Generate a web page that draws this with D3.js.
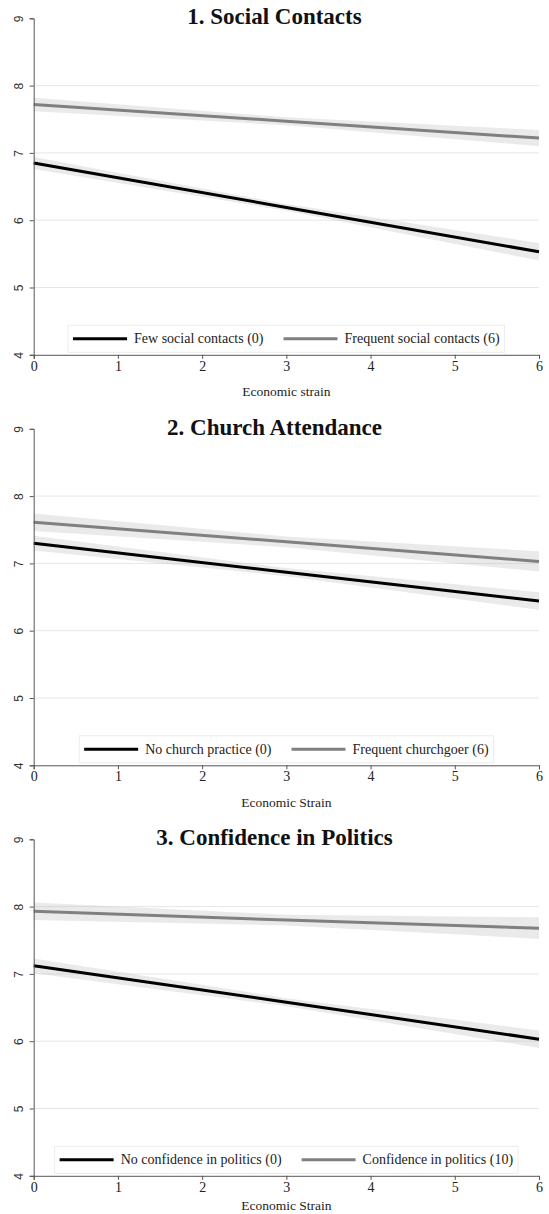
<!DOCTYPE html>
<html>
<head>
<meta charset="utf-8">
<script src="https://cdn.jsdelivr.net/npm/d3@7"></script>
<style>
  body { margin: 0; background: #fff; }
  svg { display: block; }
</style>
</head>
<body>
<div id="chart"></div>
<script>
// x positions where predictions were read (economic strain)
const strainPts = [0, 3, 6];
const strainTicks = [0, 1, 2, 3, 4, 5, 6];
const yTicks = [4, 5, 6, 7, 8, 9];
const gridTicks = [5, 6, 7, 8];

// 1. Social contacts
const socialFewFit = [6.85, 6.19, 5.53];
const socialFewHalf = [0.09, 0.05, 0.13];
const socialFreqFit = [7.72, 7.47, 7.22];
const socialFreqHalf = [0.10, 0.06, 0.12];

// 2. Church attendance
const churchNoFit = [7.30, 6.87, 6.44];
const churchNoHalf = [0.11, 0.06, 0.13];
const churchFreqFit = [7.61, 7.32, 7.03];
const churchFreqHalf = [0.13, 0.08, 0.15];

// 3. Confidence in politics
const politicsNoFit = [7.12, 6.58, 6.03];
const politicsNoHalf = [0.11, 0.06, 0.13];
const politicsConfFit = [7.93, 7.80, 7.68];
const politicsConfHalf = [0.13, 0.08, 0.16];

const panels = [
  { title: "1. Social Contacts", xLabel: "Economic strain", labelOffset: 37,
    series: [
      { label: "Few social contacts (0)", fit: socialFewFit, half: socialFewHalf, color: "#000" },
      { label: "Frequent social contacts (6)", fit: socialFreqFit, half: socialFreqHalf, color: "#808080" }
    ] },
  { title: "2. Church Attendance", xLabel: "Economic Strain", labelOffset: 37,
    series: [
      { label: "No church practice (0)", fit: churchNoFit, half: churchNoHalf, color: "#000" },
      { label: "Frequent churchgoer (6)", fit: churchFreqFit, half: churchFreqHalf, color: "#808080" }
    ] },
  { title: "3. Confidence in Politics", xLabel: "Economic Strain", labelOffset: 30,
    series: [
      { label: "No confidence in politics (0)", fit: politicsNoFit, half: politicsNoHalf, color: "#000" },
      { label: "Confidence in politics (10)", fit: politicsConfFit, half: politicsConfHalf, color: "#808080" }
    ] }
];

const width = 549, height = 1214;
const serif = "'Liberation Serif', 'Times New Roman', serif";
const sans = "'Liberation Sans', Arial, sans-serif";
const panelStep = 410.5;
const margin = { left: 33.7, right: 10, top: 18.3 };
const innerWidth = width - margin.left - margin.right;
const innerHeight = 336.5;

const svg = d3.select("#chart").append("svg")
  .attr("width", width).attr("height", height);

const x = d3.scaleLinear().domain([0, 6]).range([0, innerWidth]);
const y = d3.scaleLinear().domain([4, 9]).range([innerHeight, 0]);

panels.forEach((p, i) => {
  const top = margin.top + i * panelStep;
  const g = svg.append("g").attr("transform", `translate(${margin.left},${top})`);

  // title
  svg.append("text")
    .attr("x", width / 2).attr("y", top + 6)
    .attr("text-anchor", "middle")
    .attr("font-family", serif).attr("font-weight", "bold").attr("font-size", 23)
    .attr("fill", "#111")
    .text(p.title);

  // gridlines
  g.selectAll(".grid").data(gridTicks).join("line")
    .attr("x1", 0).attr("x2", innerWidth)
    .attr("y1", d => y(d)).attr("y2", d => y(d))
    .attr("stroke", "#e6e6e6").attr("stroke-width", 1);

  // confidence bands
  const area = d3.area()
    .x((d, j) => x(strainPts[j]))
    .y0(d => y(d[0]))
    .y1(d => y(d[1]));
  p.series.forEach(s => {
    const band = s.fit.map((f, j) => [f - s.half[j], f + s.half[j]]);
    g.append("path").datum(band)
      .attr("d", area)
      .attr("fill", "#b8b8b8").attr("fill-opacity", 0.3);
  });

  // fitted lines
  const line = d3.line().x((d, j) => x(strainPts[j])).y(d => y(d));
  p.series.forEach(s => {
    g.append("path").datum(s.fit)
      .attr("d", line)
      .attr("fill", "none").attr("stroke", s.color).attr("stroke-width", 3);
  });

  // y axis, labels turned vertical
  const yAxis = g.append("g").call(d3.axisLeft(y).tickValues(yTicks).tickSize(4).tickFormat(d3.format("d")));
  yAxis.select(".domain").attr("stroke", "#555");
  yAxis.selectAll(".tick line").attr("stroke", "#555");
  yAxis.selectAll(".tick text")
    .attr("font-family", sans).attr("font-size", 12).attr("fill", "#333")
    .attr("x", null).attr("dy", null)
    .attr("text-anchor", "middle")
    .attr("transform", "translate(-15,0) rotate(-90)")
    .attr("dominant-baseline", "central");

  // x axis
  const xAxis = g.append("g").attr("transform", `translate(0,${innerHeight})`)
    .call(d3.axisBottom(x).tickValues(strainTicks).tickSize(4).tickFormat(d3.format("d")));
  xAxis.select(".domain").attr("stroke", "#555");
  xAxis.selectAll(".tick line").attr("stroke", "#555");
  xAxis.selectAll(".tick text")
    .attr("font-family", serif).attr("font-size", 14).attr("fill", "#222")
    .attr("y", 6);

  g.append("text")
    .attr("x", innerWidth / 2).attr("y", innerHeight + p.labelOffset)
    .attr("dominant-baseline", "central")
    .attr("text-anchor", "middle")
    .attr("font-family", serif).attr("font-size", 13.5).attr("fill", "#222")
    .text(p.xLabel);

  // legend
  const sampleW = 54, gapText = 7, gapItem = 20, pad = 5, boxH = 27;
  const leg = g.append("g");
  const box = leg.append("rect")
    .attr("fill", "#fff").attr("stroke", "#ececec").attr("stroke-width", 1);
  let cx = pad;
  p.series.forEach((s, j) => {
    leg.append("line")
      .attr("x1", cx).attr("x2", cx + sampleW)
      .attr("y1", boxH / 2).attr("y2", boxH / 2)
      .attr("stroke", s.color).attr("stroke-width", 3);
    cx += sampleW + gapText;
    const t = leg.append("text")
      .attr("x", cx).attr("y", boxH / 2)
      .attr("dominant-baseline", "central")
      .attr("font-family", serif).attr("font-size", 14).attr("fill", "#222")
      .text(s.label);
    cx += t.node().getComputedTextLength();
    if (j < p.series.length - 1) cx += gapItem;
  });
  const legW = cx + pad;
  box.attr("x", 0).attr("y", 0).attr("width", legW).attr("height", boxH);
  leg.attr("transform", `translate(${(innerWidth - legW) / 2},${innerHeight - boxH - 2.5})`);
});
</script>
</body>
</html>
